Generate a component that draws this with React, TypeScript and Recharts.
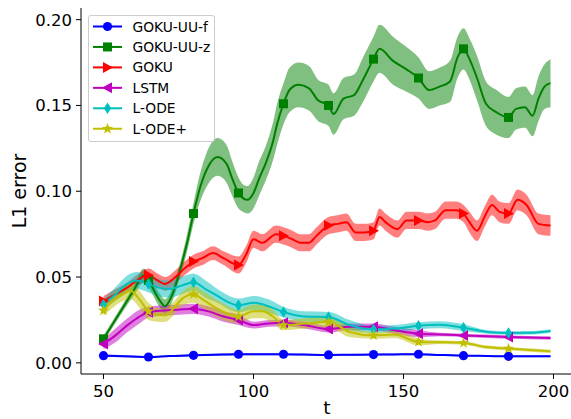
import { ComposedChart, Line, Area, XAxis, YAxis, Legend, Label } from "recharts";

const FONT = "'DejaVu Sans', Verdana, sans-serif";

// marker every 15 steps
const markerT = [50, 65, 80, 95, 110, 125, 140, 155, 170, 185];

const xTicks = [50, 100, 150, 200];
const yTicks = [0, 0.05, 0.1, 0.15, 0.2];

// GOKU-UU-f
const uufT = [50, 57, 65, 72, 80, 87, 95, 102, 110, 117, 125, 132, 140, 147, 155, 162, 170, 178, 185, 192, 199];
const uufMean = [0.0042, 0.0038, 0.0034, 0.004, 0.0044, 0.0047, 0.005, 0.005, 0.005, 0.0048, 0.0046, 0.0047, 0.0048, 0.0049, 0.005, 0.0046, 0.0042, 0.004, 0.0038, 0.0038, 0.0038];
const uufStd = [0.0006, 0.0006, 0.0005, 0.0005, 0.0006, 0.0006, 0.0006, 0.0005, 0.0005, 0.0005, 0.0005, 0.0005, 0.0005, 0.0005, 0.0005, 0.0005, 0.0005, 0.0005, 0.0005, 0.0005, 0.0005];

// GOKU-UU-z
const uuzT = [50, 55, 60, 63.5, 65, 68.5, 70.5, 73, 75.5, 78, 80, 82, 84.5, 88, 91, 93, 95, 96.5, 98, 100, 102, 104, 106.5, 108, 110, 112, 115, 118.5, 121.5, 125, 126.7, 130, 133.5, 136.5, 140, 142, 146.5, 151, 155, 158.5, 162, 165.5, 168, 170, 172, 174.5, 177.5, 181, 185, 187.5, 190.5, 193, 195, 197, 199];
const uuzMean = [0.014, 0.028, 0.042, 0.051, 0.048, 0.037, 0.033, 0.04, 0.054, 0.071, 0.087, 0.101, 0.113, 0.12, 0.116, 0.107, 0.099, 0.096, 0.095, 0.099, 0.108, 0.116, 0.129, 0.14, 0.151, 0.159, 0.162, 0.16, 0.153, 0.15, 0.145, 0.154, 0.156, 0.165, 0.177, 0.183, 0.176, 0.171, 0.166, 0.159, 0.161, 0.164, 0.178, 0.183, 0.177, 0.166, 0.151, 0.146, 0.143, 0.148, 0.149, 0.144, 0.154, 0.161, 0.163];
const uuzStd = [0.002, 0.002, 0.003, 0.004, 0.004, 0.004, 0.004, 0.004, 0.004, 0.005, 0.006, 0.008, 0.01, 0.011, 0.011, 0.01, 0.009, 0.008, 0.008, 0.009, 0.01, 0.01, 0.011, 0.012, 0.012, 0.013, 0.013, 0.013, 0.012, 0.012, 0.012, 0.012, 0.012, 0.013, 0.013, 0.014, 0.014, 0.013, 0.012, 0.011, 0.011, 0.012, 0.012, 0.012, 0.012, 0.013, 0.013, 0.013, 0.012, 0.012, 0.012, 0.012, 0.013, 0.013, 0.014];

// GOKU
const gokuT = [50, 54, 58, 61, 65, 68, 70.5, 74, 77, 80, 83, 86.5, 90, 95, 97.5, 100, 103, 107.5, 110, 113, 115.5, 118.5, 121, 125, 128, 131, 134, 137, 140, 142, 144, 148, 151, 155, 158, 160.5, 164, 167.5, 170, 172, 174.5, 177, 179.5, 182, 185, 188, 191, 195, 199];
const gokuMean = [0.036, 0.04, 0.044, 0.048, 0.051, 0.048, 0.046, 0.05, 0.055, 0.059, 0.061, 0.064, 0.061, 0.057, 0.063, 0.072, 0.07, 0.075, 0.074, 0.072, 0.07, 0.07, 0.074, 0.08, 0.081, 0.082, 0.076, 0.076, 0.077, 0.085, 0.082, 0.078, 0.083, 0.083, 0.082, 0.083, 0.089, 0.089, 0.087, 0.082, 0.077, 0.085, 0.092, 0.088, 0.087, 0.095, 0.092, 0.081, 0.08];
const gokuStd = [0.003, 0.003, 0.003, 0.003, 0.004, 0.004, 0.004, 0.004, 0.004, 0.004, 0.004, 0.004, 0.004, 0.005, 0.005, 0.005, 0.005, 0.005, 0.005, 0.005, 0.005, 0.005, 0.005, 0.005, 0.005, 0.005, 0.005, 0.005, 0.005, 0.005, 0.005, 0.005, 0.005, 0.005, 0.005, 0.005, 0.005, 0.005, 0.005, 0.006, 0.006, 0.006, 0.006, 0.006, 0.006, 0.006, 0.006, 0.006, 0.006];

// LSTM
const lstmT = [50, 54, 58, 62, 65, 70, 75, 80, 85, 90, 95, 100, 105, 110, 117, 125, 132, 140, 147, 155, 162, 170, 178, 185, 192, 199];
const lstmMean = [0.011, 0.016, 0.022, 0.027, 0.0295, 0.0305, 0.031, 0.0315, 0.03, 0.027, 0.025, 0.022, 0.023, 0.0233, 0.022, 0.0197, 0.021, 0.021, 0.019, 0.017, 0.0165, 0.016, 0.0155, 0.015, 0.0147, 0.0145];
const lstmStd = [0.003, 0.004, 0.004, 0.004, 0.003, 0.003, 0.003, 0.003, 0.003, 0.003, 0.003, 0.002, 0.002, 0.002, 0.002, 0.002, 0.002, 0.002, 0.002, 0.002, 0.001, 0.001, 0.001, 0.001, 0.001, 0.001];

// L-ODE
const lodeT = [50, 54, 58, 61, 65, 68, 72, 76, 80, 84, 88, 92, 95, 100, 105, 110, 117, 125, 132, 140, 147, 155, 162, 170, 178, 185, 192, 199];
const lodeMean = [0.034, 0.04, 0.046, 0.048, 0.046, 0.044, 0.043, 0.045, 0.047, 0.043, 0.039, 0.035, 0.0335, 0.035, 0.033, 0.0296, 0.027, 0.0267, 0.022, 0.0195, 0.02, 0.0216, 0.0222, 0.0205, 0.018, 0.0174, 0.0175, 0.0186];
const lodeStd = [0.003, 0.004, 0.005, 0.005, 0.005, 0.005, 0.005, 0.005, 0.005, 0.005, 0.004, 0.004, 0.004, 0.004, 0.004, 0.003, 0.003, 0.003, 0.003, 0.002, 0.002, 0.002, 0.002, 0.002, 0.001, 0.001, 0.001, 0.001];

// L-ODE+
const lodepT = [50, 53, 56.5, 59, 62, 65, 68, 70.5, 73, 76, 80, 83, 88.5, 95, 100, 103, 106.5, 110, 117.5, 125, 132, 140, 147, 155, 162, 170, 177.5, 185, 192, 199];
const lodepMean = [0.0305, 0.036, 0.04, 0.042, 0.037, 0.03, 0.028, 0.0278, 0.031, 0.037, 0.04, 0.037, 0.031, 0.027, 0.03, 0.03, 0.027, 0.022, 0.023, 0.0238, 0.018, 0.016, 0.0165, 0.0122, 0.012, 0.0116, 0.0092, 0.0083, 0.0075, 0.0067];
const lodepStd = [0.003, 0.004, 0.004, 0.005, 0.005, 0.005, 0.004, 0.004, 0.004, 0.004, 0.005, 0.005, 0.005, 0.004, 0.004, 0.004, 0.004, 0.003, 0.003, 0.003, 0.003, 0.002, 0.002, 0.002, 0.001, 0.001, 0.001, 0.001, 0.001, 0.001];

type Shape = "circle" | "square" | "right" | "left" | "diamond" | "star";

const series = [
  { name: "GOKU-UU-f", color: "#0000ff", shape: "circle" as Shape, t: uufT, mean: uufMean, std: uufStd },
  { name: "GOKU-UU-z", color: "#008000", shape: "square" as Shape, t: uuzT, mean: uuzMean, std: uuzStd },
  { name: "GOKU", color: "#ff0000", shape: "right" as Shape, t: gokuT, mean: gokuMean, std: gokuStd },
  { name: "LSTM", color: "#bf00bf", shape: "left" as Shape, t: lstmT, mean: lstmMean, std: lstmStd },
  { name: "L-ODE", color: "#00bfbf", shape: "diamond" as Shape, t: lodeT, mean: lodeMean, std: lodeStd },
  { name: "L-ODE+", color: "#bfbf00", shape: "star" as Shape, t: lodepT, mean: lodepMean, std: lodepStd },
].map((s) => ({
  ...s,
  rows: s.t.map((t, i) => ({ t, v: s.mean[i], band: [s.mean[i] - s.std[i], s.mean[i] + s.std[i]] })),
}));

function starPoints(cx: number, cy: number, ro: number, ri: number) {
  const pts: string[] = [];
  for (let k = 0; k < 10; k++) {
    const r = k % 2 === 0 ? ro : ri;
    const a = -Math.PI / 2 + (k * Math.PI) / 5;
    pts.push(`${cx + r * Math.cos(a)},${cy + r * Math.sin(a)}`);
  }
  return pts.join(" ");
}

function Marker({ cx, cy, shape, color }: { cx: number; cy: number; shape: Shape; color: string }) {
  switch (shape) {
    case "circle":
      return <circle cx={cx} cy={cy} r={4.6} fill={color} />;
    case "square":
      return <rect x={cx - 4.5} y={cy - 4.5} width={9} height={9} fill={color} />;
    case "right":
      return <polygon points={`${cx + 5.5},${cy} ${cx - 4.5},${cy - 5.5} ${cx - 4.5},${cy + 5.5}`} fill={color} />;
    case "left":
      return <polygon points={`${cx - 5.5},${cy} ${cx + 4.5},${cy - 5.5} ${cx + 4.5},${cy + 5.5}`} fill={color} />;
    case "diamond":
      return <polygon points={`${cx},${cy - 5.8} ${cx + 3.6},${cy} ${cx},${cy + 5.8} ${cx - 3.6},${cy}`} fill={color} />;
    default:
      return <polygon points={starPoints(cx, cy, 5.8, 2.4)} fill={color} />;
  }
}

function LegendBox() {
  return (
    <div
      style={{
        width: 127,
        height: 127,
        boxSizing: "border-box",
        background: "rgba(255,255,255,0.8)",
        border: "1px solid #cccccc",
        borderRadius: 3,
      }}
    >
      <svg width={125} height={125} style={{ display: "block" }}>
        {series.map((s, i) => {
          const y = 10.5 + i * 20.45;
          return (
            <g key={s.name}>
              <line x1={4} x2={33} y1={y} y2={y} stroke={s.color} strokeWidth={2} />
              <Marker cx={18.5} cy={y} shape={s.shape} color={s.color} />
              <text x={43.5} y={y} dominantBaseline="central" fontFamily={FONT} fontSize={13.8} fill="#000">
                {s.name}
              </text>
            </g>
          );
        })}
      </svg>
    </div>
  );
}

export default function App() {
  return (
    <div style={{ position: "absolute", left: 0, top: 0, width: 571, height: 419, overflow: "hidden", background: "#fff" }}>
      <ComposedChart width={580} height={419} margin={{ top: 8, right: 7, bottom: 0, left: 0 }}>
        <XAxis
          dataKey="t"
          type="number"
          domain={[42.5, 206.5]}
          allowDataOverflow
          ticks={xTicks}
          height={45}
          tickSize={5}
          tickMargin={6}
          stroke="#000"
          tick={{ fill: "#000", fontSize: 16.5, fontFamily: FONT }}
        >
          <Label
            content={() => (
              <text x={327} y={414} textAnchor="middle" fontFamily={FONT} fontSize={18.5} fill="#000">
                t
              </text>
            )}
          />
        </XAxis>
        <XAxis
          xAxisId="top"
          orientation="top"
          type="number"
          domain={[42.5, 206.5]}
          height={0}
          tick={false}
          tickLine={false}
          stroke="#000"
        />
        <YAxis
          type="number"
          domain={[-0.0065, 0.2068]}
          allowDataOverflow
          ticks={yTicks}
          width={81}
          tickSize={5}
          tickMargin={4}
          stroke="#000"
          tickFormatter={(v: number) => v.toFixed(2)}
          tick={{ fill: "#000", fontSize: 16.5, fontFamily: FONT }}
        >
          <Label
            content={() => (
              <text
                x={19}
                y={191}
                transform="rotate(-90 19 191)"
                textAnchor="middle"
                dominantBaseline="central"
                fontFamily={FONT}
                fontSize={19}
                fill="#000"
              >
                L1 error
              </text>
            )}
          />
        </YAxis>
        {series.map((s) => (
          <Area
            key={s.name + "-band"}
            data={s.rows}
            dataKey="band"
            type="monotone"
            stroke="none"
            fill={s.color}
            fillOpacity={0.5}
            dot={false}
            activeDot={false}
            legendType="none"
            isAnimationActive={false}
          />
        ))}
        {series.map((s) => (
          <Line
            key={s.name}
            data={s.rows}
            dataKey="v"
            name={s.name}
            type="monotone"
            stroke={s.color}
            strokeWidth={2}
            activeDot={false}
            isAnimationActive={false}
            dot={(p: any) =>
              markerT.includes(p.payload.t) ? (
                <Marker key={`${s.name}-${p.index}`} cx={p.cx} cy={p.cy} shape={s.shape} color={s.color} />
              ) : (
                <g key={`${s.name}-${p.index}`} />
              )
            }
          />
        ))}
        <Legend
          layout="vertical"
          align="center"
          verticalAlign="middle"
          wrapperStyle={{ left: 88, top: 15, width: 127, height: 127 }}
          content={() => <LegendBox />}
        />
      </ComposedChart>
    </div>
  );
}
